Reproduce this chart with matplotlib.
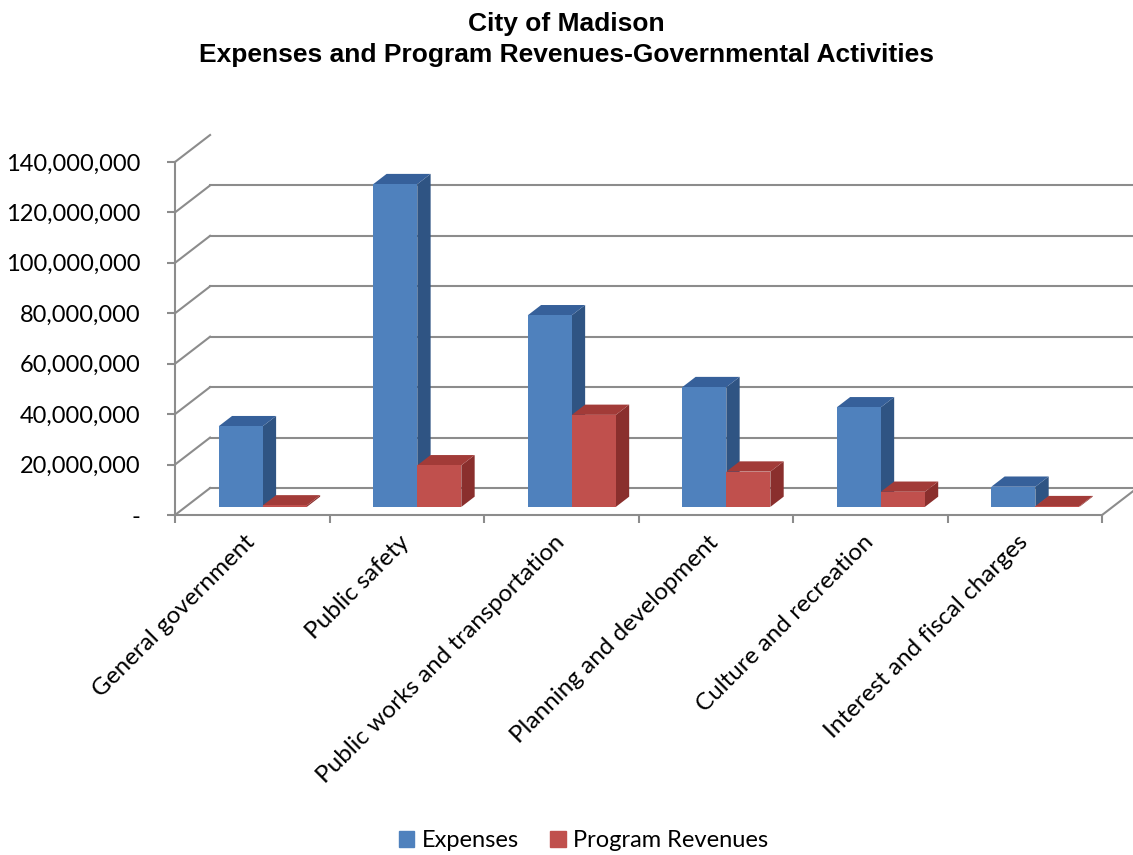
import matplotlib
matplotlib.use('Agg')
import matplotlib.pyplot as plt
from matplotlib.patches import Polygon
from matplotlib.ticker import FuncFormatter
from matplotlib.transforms import ScaledTranslation

categories = ['General government', 'Public safety', 'Public works and transportation',
              'Planning and development', 'Culture and recreation', 'Interest and fiscal charges']
expenses = [32.0e6, 128.0e6, 76.0e6, 47.5e6, 39.5e6, 8.0e6]
program_revenues = [0.6e6, 16.5e6, 36.5e6, 14.0e6, 6.0e6, 0.3e6]
series_names = ['Expenses', 'Program Revenues']
y_ticks = [0, 20e6, 40e6, 60e6, 80e6, 100e6, 120e6, 140e6]

# oblique "3d" look: depth offset of the back wall in data units
DX = 0.227
DY = 10.7e6
BAR_W = 0.285
BAR_D0 = 0.30
BAR_D1 = 0.68

front_colors = ['#4F81BD', '#C0504D']
side_colors = ['#2F5483', '#8A2F2D']
top_colors = ['#36609A', '#A23B38']
grid_color = '#8C8C8C'


def proj(x, y, d):
    return (x + d * DX, y + d * DY)


def draw_bar(ax, x0, v, s):
    x1 = x0 + BAR_W
    front = [proj(x0, 0, BAR_D0), proj(x1, 0, BAR_D0), proj(x1, v, BAR_D0), proj(x0, v, BAR_D0)]
    side = [proj(x1, 0, BAR_D0), proj(x1, 0, BAR_D1), proj(x1, v, BAR_D1), proj(x1, v, BAR_D0)]
    top = [proj(x0, v, BAR_D0), proj(x1, v, BAR_D0), proj(x1, v, BAR_D1), proj(x0, v, BAR_D1)]
    ax.add_patch(Polygon(side, closed=True, facecolor=side_colors[s], edgecolor='none', zorder=3))
    ax.add_patch(Polygon(top, closed=True, facecolor=top_colors[s], edgecolor='none', zorder=3))
    ax.add_patch(Polygon(front, closed=True, facecolor=front_colors[s], edgecolor='none', zorder=3))


fig = plt.figure(figsize=(11.33, 8.55), dpi=100)
ax = fig.add_axes([175 / 1133, (855 - 515) / 855, 958 / 1133, 380 / 855])
n = len(categories)
ax.set_xlim(0, 6.2)
ax.set_ylim(0, 140e6 + DY)

# walls and gridlines
for y in y_ticks:
    p0 = proj(0, y, 0)
    p1 = proj(0, y, 1)
    ax.plot([p0[0], p1[0]], [p0[1], p1[1]], color=grid_color, lw=1.5, zorder=1, clip_on=False)
    if y < y_ticks[-1]:
        p2 = proj(n, y, 1)
        ax.plot([p1[0], p2[0]], [p1[1], p2[1]], color=grid_color, lw=1.5, zorder=1, clip_on=False)
p0 = proj(n, 0, 0)
p1 = proj(n, 0, 1)
ax.plot([p0[0], p1[0]], [p0[1], p1[1]], color=grid_color, lw=1.5, zorder=1, clip_on=False)

# bars
for i in range(n):
    x0 = i + 0.5 - BAR_W
    draw_bar(ax, x0, expenses[i], 0)
    draw_bar(ax, x0 + BAR_W, program_revenues[i], 1)

for side in ['top', 'right']:
    ax.spines[side].set_visible(False)
ax.spines['left'].set_bounds(0, 140e6)
ax.spines['bottom'].set_bounds(0, n)
for side in ['left', 'bottom']:
    ax.spines[side].set_color(grid_color)
    ax.spines[side].set_linewidth(1.5)

ax.set_yticks(y_ticks)
ax.yaxis.set_major_formatter(FuncFormatter(lambda v, p: '-' if v == 0 else f'{v:,.0f}'))
ax.tick_params(axis='y', length=6, width=1.5, color=grid_color, pad=19, labelsize=17)

ax.set_xticks(range(n + 1))
ax.set_xticklabels([])
ax.set_xticks([i + 0.5 for i in range(n)], minor=True)
ax.set_xticklabels(categories, minor=True, rotation=45, ha='right', rotation_mode='anchor', fontsize=17.5)
ax.tick_params(axis='x', which='major', length=6, width=1.5, color=grid_color)
ax.tick_params(axis='x', which='minor', length=0, pad=12)

shift = ScaledTranslation(-8 / 100, 0, fig.dpi_scale_trans)
for lab in ax.get_xticklabels(minor=True):
    lab.set_fontfamily('Lato')
    lab.set_transform(lab.get_transform() + shift)
for lab in ax.get_yticklabels():
    lab.set_fontfamily('Lato')

fig.text(0.5, 0.986, 'City of Madison\nExpenses and Program Revenues-Governmental Activities',
         ha='center', va='top', fontsize=19, fontweight='bold', fontfamily='Liberation Sans',
         linespacing=1.35)

handles = [plt.Rectangle((0, 0), 1, 1, color=c) for c in front_colors]
fig.legend(handles, series_names, loc='center', bbox_to_anchor=(0.515, 0.017), ncol=2,
           frameon=False, prop={'family': 'Lato', 'size': 17}, handlelength=0.65, handleheight=0.65,
           columnspacing=1.35, handletextpad=0.3)

fig.savefig('out.png', dpi=100)
